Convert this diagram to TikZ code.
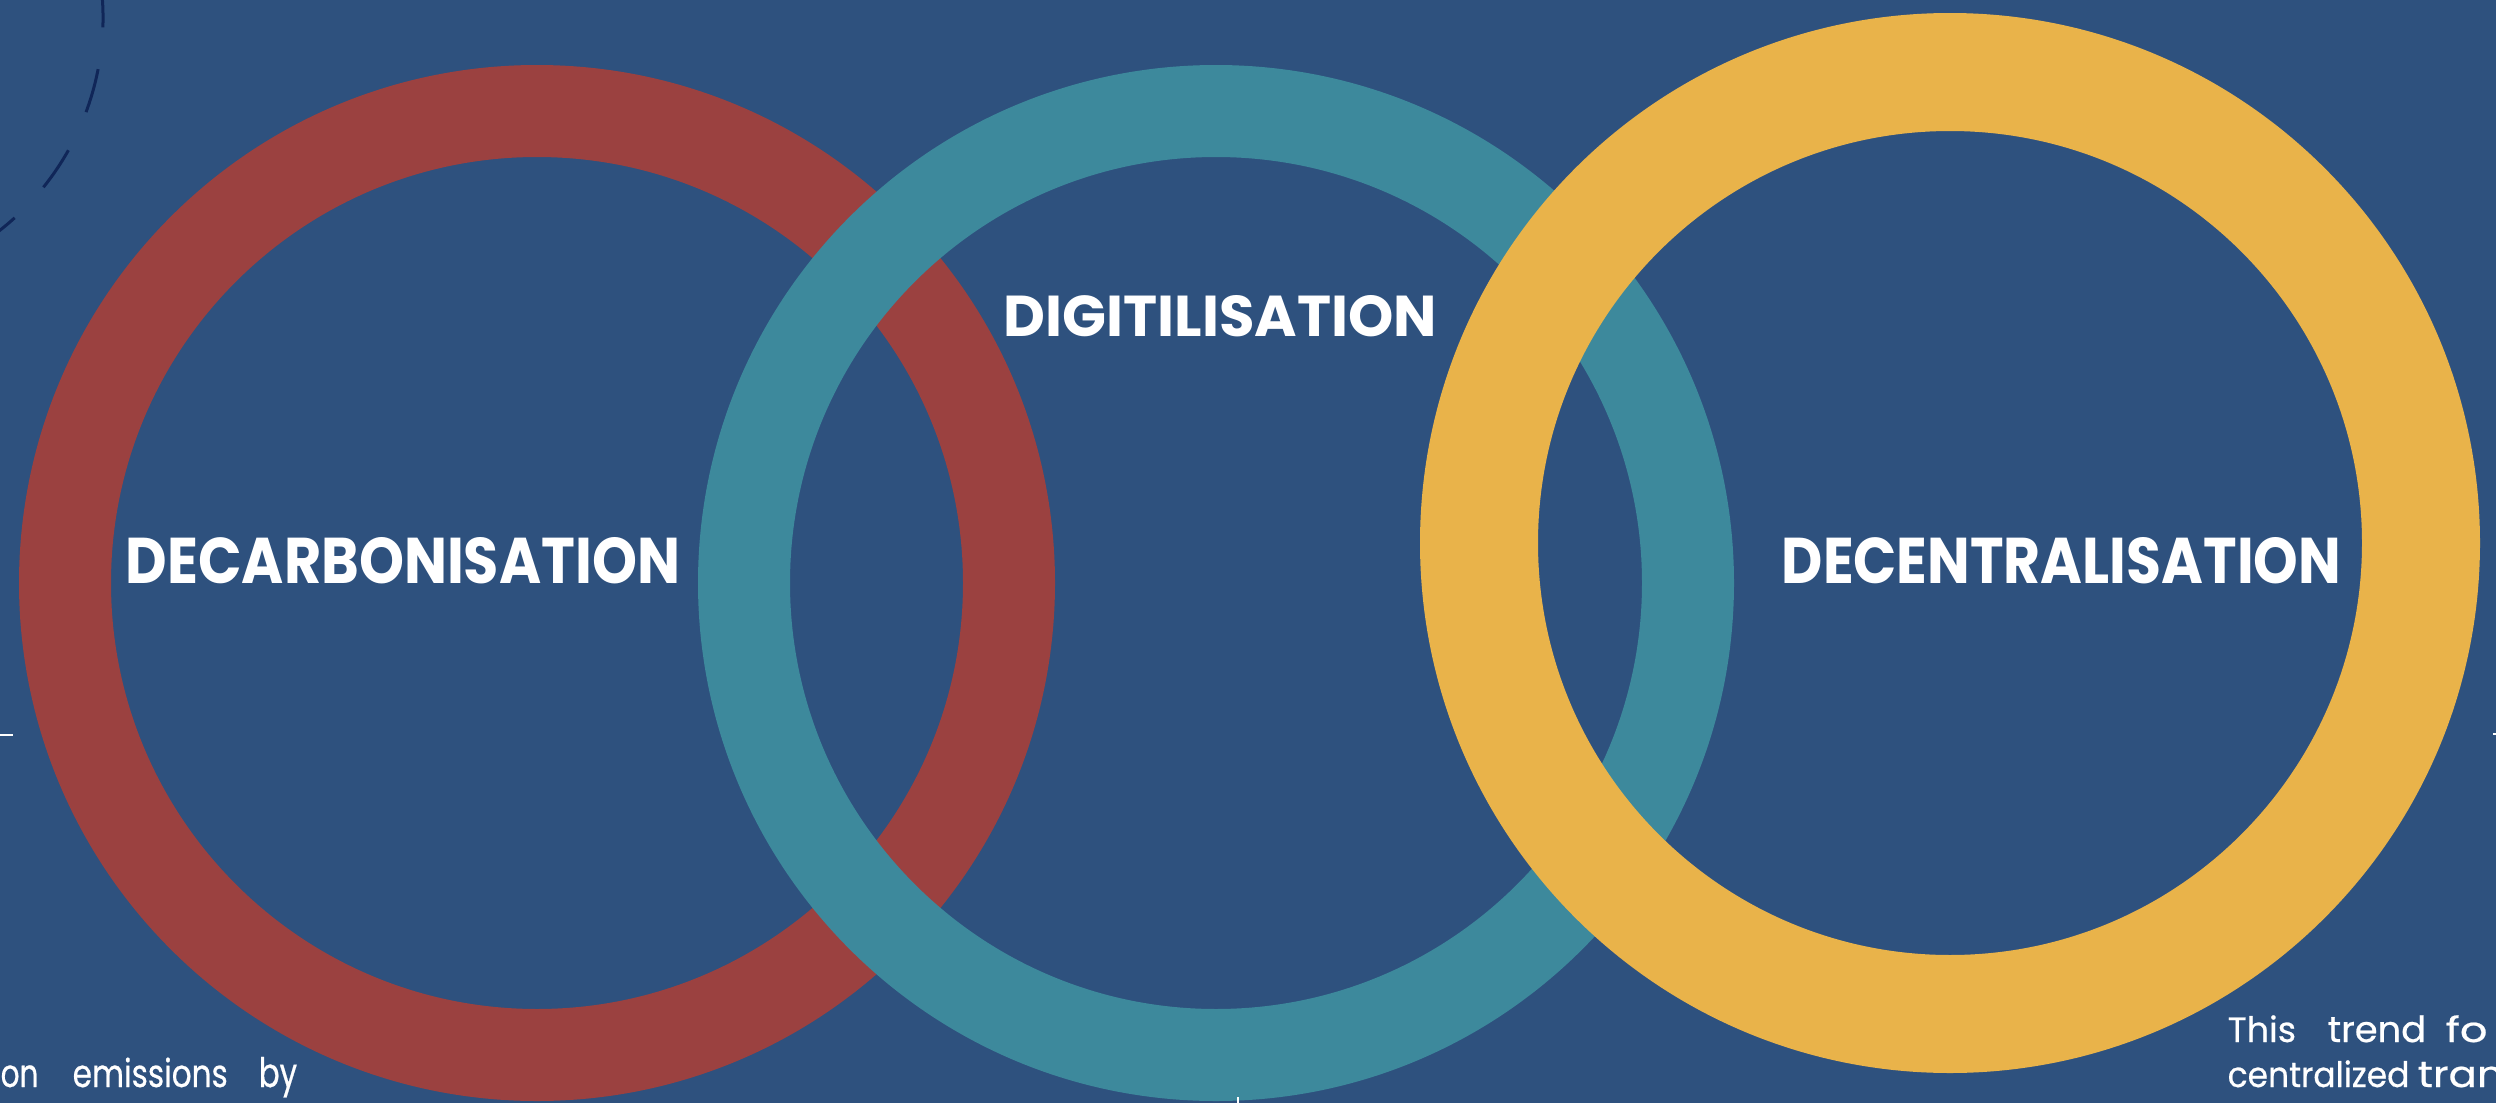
\documentclass[tikz,border=0pt]{standalone}
\usepackage{fontspec}
\setmainfont{Poppins}
\newfontfamily\bodyfont{Poppins}[FakeBold=0.6]
\usepackage{graphicx}

\definecolor{bgblue}{RGB}{46,81,126}
\definecolor{ringredc}{RGB}{155,65,64}
\definecolor{ringtealc}{RGB}{61,137,156}
\definecolor{ringyellowc}{RGB}{233,179,74}
\definecolor{dashnavy}{RGB}{16,38,88}

\begin{document}
\begin{tikzpicture}[x=0.01cm,y=-0.01cm,
  ring/.style={fill=#1, even odd rule},
  biglabel/.style={text=white, inner sep=0pt, anchor=base west, font=\bfseries},
  bodyword/.style={text=white, inner sep=0pt, anchor=base west, font=\bodyfont\fontsize{10.4pt}{12pt}\selectfont},
  tickmark/.style={draw=white, line width=0.027cm},
  dashring/.style={draw=dashnavy, line width=0.03cm, dash pattern=on 0.447cm off 0.42cm}]

% canvas
\useasboundingbox (0,0) rectangle (2496,1103);
\clip (0,0) rectangle (2496,1103);
\fill[bgblue] (0,0) rectangle (2496,1103);

% dashed orbit in the corner
\coordinate (orbit) at (-167,18);
\draw[dashring] (orbit) ++(-25.9:270) arc[start angle=-25.9, end angle=100, radius=270];

% ring centres
\coordinate (cred) at (537,583);
\coordinate (cteal) at (1216,583);
\coordinate (cyellow) at (1950,543);

% interlocking rings, back to front
\fill[ring=ringredc] (cred) circle[radius=518] (cred) circle[radius=426];
\fill[ring=ringtealc] (cteal) circle[radius=518] (cteal) circle[radius=426];
\fill[ring=ringyellowc] (cyellow) circle[radius=530] (cyellow) circle[radius=412];

% ring labels
\node[biglabel] (decarb) at (125,583) {\resizebox{5.54cm}{0.46cm}{DECARBONISATION}};
\node[biglabel] (digit) at (1003,336) {\resizebox{4.33cm}{0.41cm}{DIGITILISATION}};
\node[biglabel] (decent) at (1781,583) {\resizebox{5.59cm}{0.46cm}{DECENTRALISATION}};

% paragraph fragments along the lower edge
\node[bodyword] (wOn) at (0,1087) {\resizebox{0.377cm}{0.217cm}{on}};
\node[bodyword] (wEmissions) at (72,1087) {\resizebox{1.55cm}{0.294cm}{emissions}};
\node[bodyword] (wBy) at (258,1087) {\resizebox{0.384cm}{0.30cm}{by}};

\node[bodyword] (wThis) at (2227,1042) {\resizebox{0.683cm}{0.267cm}{This}};
\node[bodyword] (wTrend) at (2327,1042) {\resizebox{0.983cm}{0.267cm}{trend}};
\node[bodyword] (wFo) at (2445,1042) {\resizebox{0.417cm}{0.267cm}{fo}};
\node[bodyword] (wCentralized) at (2227,1087) {\resizebox{1.816cm}{0.267cm}{centralized}};
\node[bodyword] (wTran) at (2417,1087) {\resizebox{0.86cm}{\height}{tran}};

% edge tick marks
\coordinate (tl0) at (0,735);   \coordinate (tl1) at (13,735);
\coordinate (tb0) at (1238,1097); \coordinate (tb1) at (1238,1103);
\coordinate (tr0) at (2493,734); \coordinate (tr1) at (2496,734);
\draw[tickmark] (tl0) -- (tl1);
\draw[tickmark] (tb0) -- (tb1);
\draw[tickmark] (tr0) -- (tr1);
\end{tikzpicture}
\end{document}
